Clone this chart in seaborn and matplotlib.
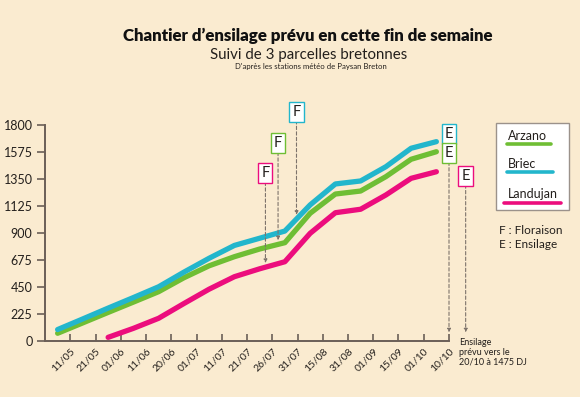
"""
Chantier d'ensilage - suivi de 3 parcelles bretonnes (degres-jours cumules)
"""

import numpy as np
import pandas as pd
import matplotlib.pyplot as plt
import seaborn as sns

# ── Data ──────────────────────────────────────
TICK_LABELS = ["11/05", "21/05", "01/06", "11/06", "20/06", "01/07", "11/07", "21/07",
               "26/07", "31/07", "15/08", "31/08", "01/09", "15/09", "01/10", "10/10"]

# cumulative degree-days, one value per slot (slot i sits half a step before tick i)
ARZANO   = [62, 149, 236, 322, 409, 525, 625, 701, 765, 818, 1063, 1224, 1249, 1369, 1514, 1577]
BRIEC    = [93, 182, 272, 360, 450, 572, 688, 795, 855, 915, 1133, 1308, 1333, 1452, 1606, 1661]
LANDUJAN = [np.nan, np.nan, 28, 103, 187, 310, 430, 534, 600, 659, 896, 1068, 1097, 1216, 1355, 1410]

# flowering (F) and harvest (E) dates, in tick units
FLORAISON = {"Landujan": 7.73, "Arzano": 8.23, "Briec": 8.96}
ENSILAGE  = {"Briec": 15.0, "Arzano": 15.0, "Landujan": 15.66}

# ── Style ─────────────────────────────────────
BG      = "#faebd0"
SPINE   = "#6b5f57"
ARROW   = "#7d736b"
TXT     = "#231f1c"
COLORS  = {"Arzano": "#6fbe34", "Briec": "#22b6cc", "Landujan": "#ec0d7d"}

sns.set_style("ticks")
plt.rcParams["font.family"] = ["Lato", "DejaVu Sans"]
plt.rcParams["lines.solid_capstyle"] = "round"
plt.rcParams["lines.solid_joinstyle"] = "round"

W, H = 580, 397
fig = plt.figure(figsize=(W / 100, H / 100), dpi=100, facecolor=BG)
ax = fig.add_axes([45 / W, 1 - 340.7 / H, 404 / W, 215.7 / H], facecolor=BG)


def px(x, y):
    """pixel position (from top-left) -> figure fraction"""
    return x / W, 1 - y / H


# ── Lines ─────────────────────────────────────
series = {"Arzano": ARZANO, "Briec": BRIEC, "Landujan": LANDUJAN}
pos = np.arange(len(TICK_LABELS)) - 0.5
df = pd.concat(
    [pd.DataFrame({"pos": pos, "dj": vals, "parcelle": name}) for name, vals in series.items()]
).dropna()

sns.lineplot(data=df, x="pos", y="dj", hue="parcelle", palette=COLORS,
             hue_order=["Landujan", "Arzano", "Briec"], linewidth=3.8,
             legend=False, ax=ax)

# ── Axes ──────────────────────────────────────
ax.set_xlim(-1, 15)
ax.set_ylim(0, 1800)
ax.set_xticks(range(len(TICK_LABELS)))
ax.set_xticklabels(TICK_LABELS, rotation=45, ha="right", rotation_mode="anchor",
                   fontsize=7.5, color=TXT)
ax.set_yticks(np.arange(0, 1801, 225))
ax.tick_params(axis="x", direction="in", length=5, width=1.2, color=SPINE, pad=4)
ax.tick_params(axis="y", direction="out", length=6, width=1.2, color=SPINE,
               labelsize=9, labelcolor=TXT, pad=3)
ax.set_xlabel("")
ax.set_ylabel("")
sns.despine(ax=ax)
for s in ("left", "bottom"):
    ax.spines[s].set_color(SPINE)
    ax.spines[s].set_linewidth(1.4)


# ── Annotations F / E ─────────────────────────
def tag(letter, x, y, color):
    ax.text(x, y, letter, ha="center", va="center", fontsize=10.5, color=TXT,
            clip_on=False, zorder=5,
            bbox=dict(boxstyle="square,pad=0.2", fc="white", ec=color, lw=1))


def arrow(x, y0, y1):
    ax.annotate("", xy=(x, y1), xytext=(x, y0), annotation_clip=False,
                arrowprops=dict(arrowstyle="-|>", color=ARROW, lw=0.8,
                                linestyle=(0, (3, 2)), mutation_scale=5,
                                shrinkA=0, shrinkB=0))


tag_height = {"Landujan": 1397, "Arzano": 1647, "Briec": 1911}
for name, xf in FLORAISON.items():
    yline = np.interp(xf, df[df.parcelle == name]["pos"], df[df.parcelle == name]["dj"])
    tag("F", xf, tag_height[name], COLORS[name])
    arrow(xf, tag_height[name] - 75, yline + 35)

tag("E", ENSILAGE["Briec"], 1722, COLORS["Briec"])
tag("E", ENSILAGE["Arzano"], 1564, COLORS["Arzano"])
tag("E", ENSILAGE["Landujan"], 1377, COLORS["Landujan"])
arrow(ENSILAGE["Arzano"], 1490, 70)
arrow(ENSILAGE["Landujan"], 1300, 70)

ax.text(15.4, 20, "Ensilage\nprévu vers le\n20/10 à 1475 DJ", ha="left", va="top",
        fontsize=6.5, color=TXT, linespacing=1.05, clip_on=False)

# ── Legend (drawn by hand) ────────────────────
x0, y0 = px(495.7, 210)
x1, y1 = px(569.3, 122.7)
fig.patches.append(plt.Rectangle((x0, y0), x1 - x0, y1 - y0, transform=fig.transFigure,
                                 fc="white", ec="#9b928b", lw=1))
legend_rows = [("Arzano", 135.5, 144, 507, 551),
               ("Briec", 164, 172.5, 507, 553),
               ("Landujan", 193.5, 202.5, 504, 561)]
for name, ty, ly, lx0, lx1 in legend_rows:
    fig.text(*px(508, ty), name, ha="left", va="center", fontsize=9, color=TXT)
    fig.add_artist(plt.Line2D([lx0 / W, lx1 / W], [1 - ly / H] * 2, color=COLORS[name],
                              lw=2.6, solid_capstyle="round"))

fig.text(*px(499, 230), "F : Floraison", ha="left", va="center", fontsize=8.5, color=TXT)
fig.text(*px(499, 244), "E : Ensilage", ha="left", va="center", fontsize=8.5, color=TXT)

# ── Titles ────────────────────────────────────
fig.text(*px(308, 36), "Chantier d’ensilage prévu en cette fin de semaine",
         ha="center", va="center", fontsize=12.2, fontweight="heavy", color="#111111")
fig.text(*px(309, 55.5), "Suivi de 3 parcelles bretonnes",
         ha="center", va="center", fontsize=10.8, fontweight="normal", color=TXT)
fig.text(*px(311, 67), "D'après les stations météo de Paysan Breton",
         ha="center", va="center", fontsize=5.6, color=TXT)

fig.savefig("out.png", dpi=100, facecolor=BG)
